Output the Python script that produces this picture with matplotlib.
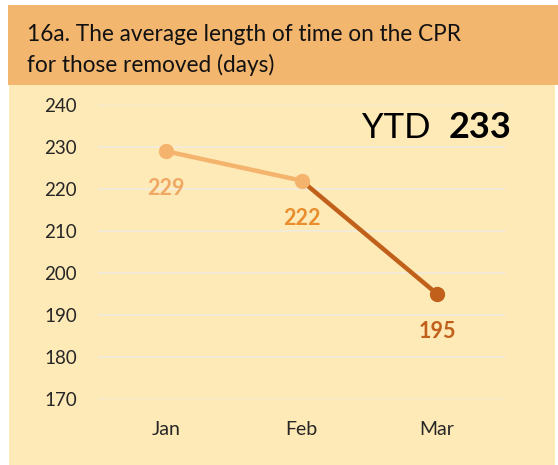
import matplotlib.pyplot as plt
from matplotlib.patches import Rectangle

plt.rcParams['font.family'] = ['Lato', 'DejaVu Sans']

months = ['Jan', 'Feb', 'Mar']
days = [229, 222, 195]
point_colors = ['#F4B46E', '#F4B46E', '#C0601B']
label_colors = ['#F0A865', '#E98E2E', '#C0601B']
seg_colors = ['#F4B46E', '#C0601B']
yticks = [170, 180, 190, 200, 210, 220, 230, 240]
ytd = 233
title = '16a. The average length of time on the CPR\nfor those removed (days)'

W, H = 558, 465
fig = plt.figure(figsize=(W / 100, H / 100), dpi=100)
fig.patch.set_facecolor('white')

# panel background + banner
fig.patches.append(Rectangle((9 / W, 0), 546 / W, 1 - 85 / H, transform=fig.transFigure,
                             facecolor='#FEEAB7', edgecolor='none', zorder=-10))
fig.patches.append(Rectangle((8 / W, 1 - 85 / H), 550 / W, 80 / H, transform=fig.transFigure,
                             facecolor='#F3B66F', edgecolor='none', zorder=-10))
fig.text(27 / W, 1 - 50 / H, title, fontsize=16.3, color='#111111', va='center', ha='left',
         linespacing=1.45)

ax = fig.add_axes([98 / W, 1 - 399 / H, 407 / W, 294 / H])
ax.set_facecolor('none')
x = list(range(len(months)))

for i in range(len(months) - 1):
    ax.plot(x[i:i + 2], days[i:i + 2], color=seg_colors[i], lw=3.2,
            solid_capstyle='round', zorder=3)
for i in x:
    ax.plot(x[i], days[i], 'o', ms=10, color=point_colors[i], zorder=4)
    ax.annotate(str(days[i]), (x[i], days[i]), xytext=(0, -27), textcoords='offset points',
                ha='center', va='center', fontsize=15.5, fontweight='bold',
                color=label_colors[i])

ax.set_xlim(-0.5, 2.5)
ax.set_ylim(170, 240)
ax.set_yticks(yticks)
ax.set_xticks(x)
ax.set_xticklabels(months)
ax.grid(axis='y', color='#F4ECDA', lw=1.3, zorder=1)
ax.tick_params(length=0, labelsize=13.5, labelcolor='#262626')
ax.tick_params(axis='y', pad=15)
ax.tick_params(axis='x', pad=16, labelsize=14)
for s in ax.spines.values():
    s.set_visible(False)

fig.text(362 / W, 1 - 128 / H, 'YTD', fontsize=25, va='center', ha='left', color='black')
fig.text(449 / W, 1 - 128 / H, str(ytd), fontsize=26, fontweight='bold', va='center',
         ha='left', color='black')

fig.savefig('out.png', dpi=100)
